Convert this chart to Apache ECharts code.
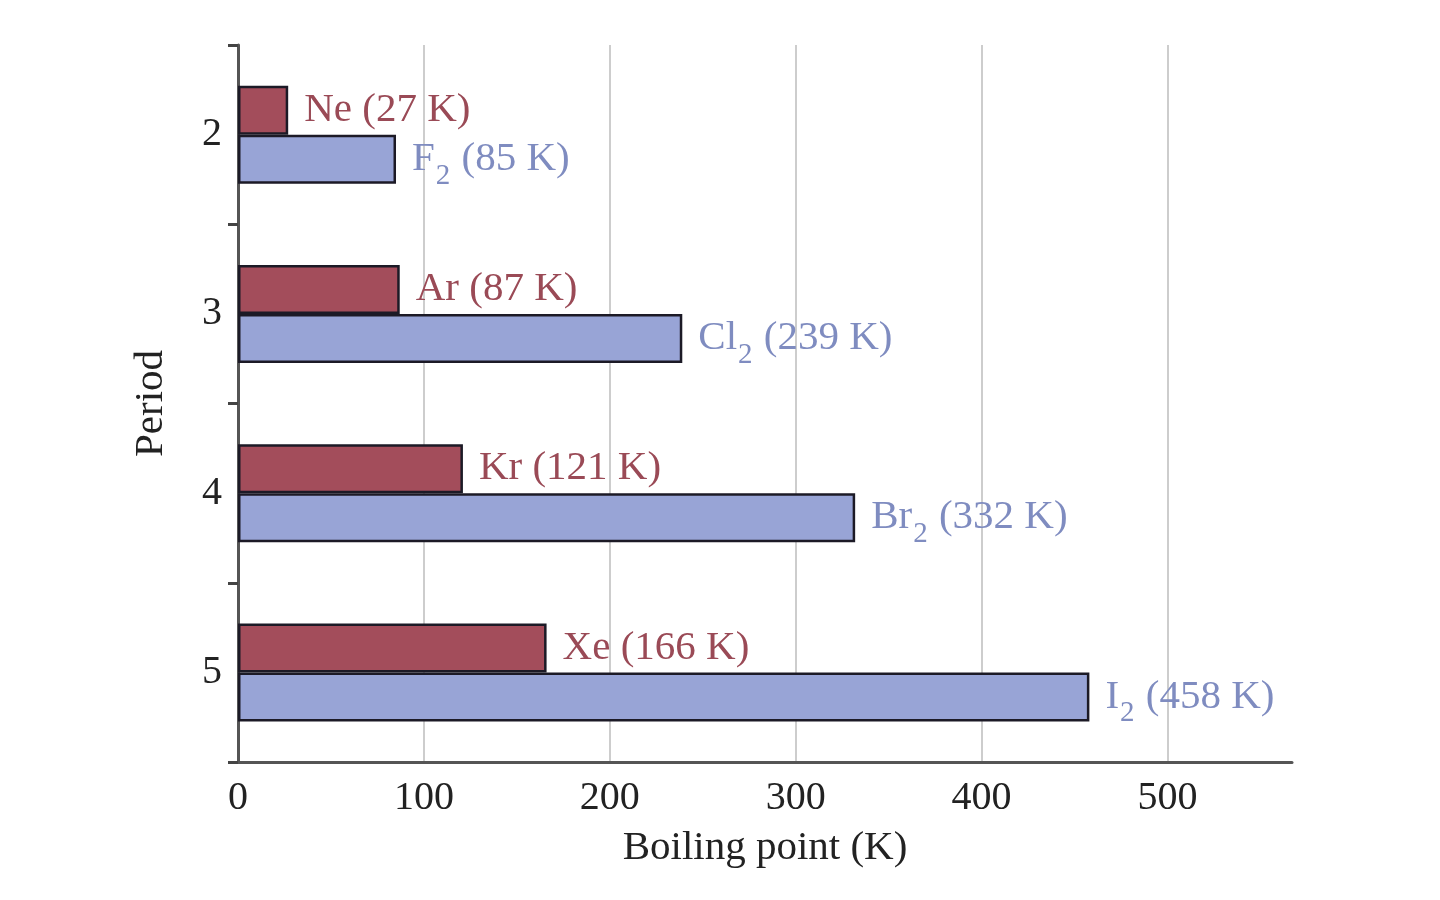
<!DOCTYPE html>
<html>
<head>
<meta charset="utf-8">
<script src="https://cdn.jsdelivr.net/npm/echarts@6/dist/echarts.min.js"></script>
<style>
  html, body { margin: 0; padding: 0; background: #fff; }
  #chart { width: 1440px; height: 900px; }
</style>
</head>
<body>
<div id="chart"></div>
<script>
// data
const periods = ['2', '3', '4', '5'];
const nobleNames = ['Ne', 'Ar', 'Kr', 'Xe'];
const nobleValues = [27, 87, 121, 166];
const halogenNames = ['F', 'Cl', 'Br', 'I'];
const halogenValues = [85, 239, 332, 458];
const xTicks = [0, 100, 200, 300, 400, 500];

const serif = '"Liberation Serif", "DejaVu Serif", serif';
const chart = echarts.init(document.getElementById('chart'));

let option = {
  backgroundColor: '#fff',
  animation: false,
  grid: { left: 238, right: 148, top: 45, bottom: 138 },
  xAxis: {
    type: 'value',
    min: 0,
    max: 567,
    interval: 100,
    name: 'Boiling point (K)',
    nameLocation: 'middle',
    nameGap: 66,
    nameTextStyle: { fontFamily: serif, fontSize: 41, color: '#222' },
    axisLine: { show: true, lineStyle: { color: '#555', width: 3 } },
    axisTick: { show: false },
    axisLabel: {
      fontFamily: serif, fontSize: 40, color: '#222', margin: 16,
      showMaxLabel: false,
      formatter: v => (xTicks.indexOf(v) >= 0 ? String(v) : '')
    },
    splitLine: {
      show: true,
      lineStyle: { color: ['#bdbdbd', '#bdbdbd', '#bdbdbd', '#bdbdbd', '#bdbdbd', '#bdbdbd', 'rgba(0,0,0,0)'], width: 1.5 }
    }
  },
  yAxis: {
    type: 'category',
    data: periods,
    inverse: true,
    name: 'Period',
    nameLocation: 'middle',
    nameGap: 66,
    nameTextStyle: { fontFamily: serif, fontSize: 41, color: '#222' },
    axisLine: { show: true, lineStyle: { color: '#555', width: 3 } },
    axisTick: { show: true, length: 10, lineStyle: { color: '#444', width: 3 } },
    axisLabel: { fontFamily: serif, fontSize: 40, color: '#222', margin: 16 },
    splitLine: { show: false }
  },
  series: [
    {
      name: 'Noble gas',
      type: 'bar',
      data: nobleValues,
      barWidth: 49,
      barGap: '0%',
      itemStyle: { color: '#a34d5b', borderColor: '#1c1a26', borderWidth: 2.5 },
      label: {
        show: true,
        position: 'right',
        distance: 16,
        fontFamily: serif,
        fontSize: 41,
        color: '#9a4a56',
        formatter: p => nobleNames[p.dataIndex] + ' (' + p.value + ' K)'
      }
    },
    {
      name: 'Halogen',
      type: 'bar',
      data: halogenValues,
      barWidth: 49,
      barGap: '0%',
      itemStyle: { color: '#98a4d6', borderColor: '#1c1a26', borderWidth: 2.5 },
      label: {
        show: true,
        position: 'right',
        distance: 16,
        color: '#7f8cc0',
        formatter: p => '{m|' + halogenNames[p.dataIndex] + '}{s|2}{m| (' + p.value + ' K)}',
        rich: {
          m: { fontFamily: serif, fontSize: 41, color: '#7f8cc0', lineHeight: 46 },
          s: { fontFamily: serif, fontSize: 29, color: '#7f8cc0', lineHeight: 10, padding: [34, 1, 0, 1] }
        }
      }
    }
  ]
};

chart.setOption(option);
</script>
</body>
</html>
